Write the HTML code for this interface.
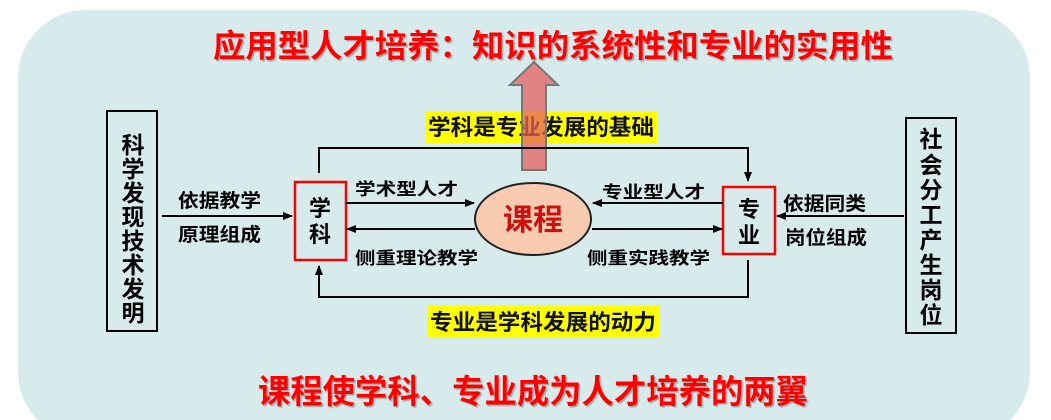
<!DOCTYPE html>
<html><head><meta charset="utf-8"><style>
html,body{margin:0;padding:0;background:#fff;width:1051px;height:420px;overflow:hidden}
svg{display:block}
text{font-family:"Liberation Sans","Noto Sans CJK SC","WenQuanYi Zen Hei",sans-serif;font-weight:bold}
</style></head><body>
<svg width="1051" height="420" viewBox="0 0 1051 420" xmlns="http://www.w3.org/2000/svg">
<defs>
<marker id="ah" markerWidth="10" markerHeight="8" refX="9" refY="4" orient="auto" markerUnits="userSpaceOnUse">
<path d="M0,0 L10,4 L0,8 Z" fill="#000"/></marker>
<filter id="sh"><feDropShadow dx="1.5" dy="1.5" stdDeviation="0.6" flood-color="#888" flood-opacity="0.7"/></filter>
</defs>
<rect x="18" y="10" width="1012" height="430" rx="68" fill="#d8ebec"/>
<text x="213" y="57" font-size="32" fill="#ff0000" textLength="680" lengthAdjust="spacingAndGlyphs" filter="url(#sh)">应用型人才培养：知识的系统性和专业的实用性</text>
<text x="258" y="403" font-size="33" fill="#ff0000" textLength="550" lengthAdjust="spacingAndGlyphs" filter="url(#sh)">课程使学科、专业成为人才培养的两翼</text>

<rect x="425" y="111" width="232" height="32" fill="#ffff00"/>
<text x="428" y="135" font-size="22" fill="#111" textLength="226" lengthAdjust="spacingAndGlyphs">学科是专业发展的基础</text>
<rect x="427" y="306" width="232" height="32" fill="#ffff00"/>
<text x="430" y="330" font-size="22" fill="#111" textLength="226" lengthAdjust="spacingAndGlyphs">专业是学科发展的动力</text>

<path d="M522,170 L522,85 L510,85 L534,62 L558,85 L546,85 L546,170 Z" fill="#e56060" fill-opacity="0.75" stroke="#777" stroke-width="2"/>

<rect x="107" y="111" width="50" height="220" fill="none" stroke="#000" stroke-width="2"/>
<text font-size="23" fill="#000" text-anchor="middle">
<tspan x="133" y="153">科</tspan><tspan x="133" y="177">学</tspan><tspan x="133" y="201">发</tspan><tspan x="133" y="225">现</tspan><tspan x="133" y="249">技</tspan><tspan x="133" y="273">术</tspan><tspan x="133" y="297">发</tspan><tspan x="133" y="321">明</tspan></text>
<line x1="162" y1="216" x2="292" y2="216" stroke="#000" stroke-width="2" marker-end="url(#ah)"/>
<text x="178" y="207" font-size="19" fill="#000" textLength="83" lengthAdjust="spacingAndGlyphs">依据教学</text>
<text x="178" y="241" font-size="19" fill="#000" textLength="83" lengthAdjust="spacingAndGlyphs">原理组成</text>

<rect x="906" y="118" width="50" height="215" fill="none" stroke="#000" stroke-width="2"/>
<text font-size="23" fill="#000" text-anchor="middle">
<tspan x="931" y="147">社</tspan><tspan x="931" y="173">会</tspan><tspan x="931" y="198">分</tspan><tspan x="931" y="223">工</tspan><tspan x="931" y="248">产</tspan><tspan x="931" y="273">生</tspan><tspan x="931" y="298">岗</tspan><tspan x="931" y="323">位</tspan></text>
<line x1="904" y1="216" x2="777" y2="216" stroke="#000" stroke-width="2" marker-end="url(#ah)"/>
<text x="783" y="210" font-size="19" fill="#000" textLength="83" lengthAdjust="spacingAndGlyphs">依据同类</text>
<text x="785" y="244" font-size="19" fill="#000" textLength="82" lengthAdjust="spacingAndGlyphs">岗位组成</text>

<rect x="295" y="182" width="51" height="78" fill="none" stroke="#ff0000" stroke-width="2.5"/>
<text font-size="22" fill="#000" text-anchor="middle"><tspan x="320" y="216">学</tspan><tspan x="320" y="242">科</tspan></text>
<rect x="723" y="187" width="52" height="67" fill="none" stroke="#ff0000" stroke-width="2.5"/>
<text font-size="22" fill="#000" text-anchor="middle"><tspan x="749" y="217">专</tspan><tspan x="749" y="243">业</tspan></text>

<polyline points="319,173 319,148 748,148 748,181" fill="none" stroke="#000" stroke-width="2" marker-end="url(#ah)"/>
<polyline points="748,260 748,297 319,297 319,266" fill="none" stroke="#000" stroke-width="2" marker-end="url(#ah)"/>

<ellipse cx="533" cy="219" rx="58" ry="36" fill="#f9cbb0" stroke="#222" stroke-width="2"/>
<text x="533" y="230" font-size="30" fill="#cc1111" text-anchor="middle">课程</text>

<line x1="346" y1="203" x2="474" y2="203" stroke="#000" stroke-width="2" marker-end="url(#ah)"/>
<line x1="475" y1="229" x2="347" y2="229" stroke="#000" stroke-width="2" marker-end="url(#ah)"/>
<line x1="723" y1="203" x2="593" y2="203" stroke="#000" stroke-width="2" marker-end="url(#ah)"/>
<line x1="592" y1="229" x2="722" y2="229" stroke="#000" stroke-width="2" marker-end="url(#ah)"/>
<text x="355" y="195" font-size="17" fill="#000" textLength="103" lengthAdjust="spacingAndGlyphs">学术型人才</text>
<text x="355" y="264" font-size="17" fill="#000" textLength="123" lengthAdjust="spacingAndGlyphs">侧重理论教学</text>
<text x="602" y="198" font-size="17" fill="#000" textLength="103" lengthAdjust="spacingAndGlyphs">专业型人才</text>
<text x="587" y="264" font-size="17" fill="#000" textLength="123" lengthAdjust="spacingAndGlyphs">侧重实践教学</text>
</svg>
</body></html>
